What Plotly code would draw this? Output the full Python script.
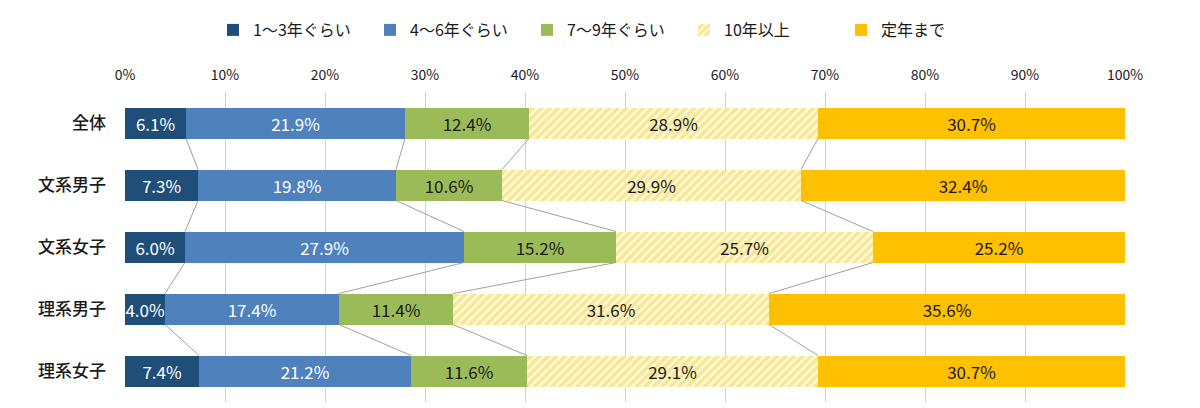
import plotly.graph_objects as go

# 回答者グループ
groups = ['全体', '文系男子', '文系女子', '理系男子', '理系女子']

# 系列名
series_names = ['1～3年ぐらい', '4～6年ぐらい', '7～9年ぐらい', '10年以上', '定年まで']

# 各系列の割合 (%)
v_1_3 = [6.1, 7.3, 6.0, 4.0, 7.4]
v_4_6 = [21.9, 19.8, 27.9, 17.4, 21.2]
v_7_9 = [12.4, 10.6, 15.2, 11.4, 11.6]
v_10plus = [28.9, 29.9, 25.7, 31.6, 29.1]
v_teinen = [30.7, 32.4, 25.2, 35.6, 30.7]

x_ticks = [0, 10, 20, 30, 40, 50, 60, 70, 80, 90, 100]

values = [v_1_3, v_4_6, v_7_9, v_10plus, v_teinen]
colors = ['#1F4E79', '#4F81BD', '#9BBB59', '#EFD245', '#FFC000']
text_colors = ['white', 'white', '#1a1a1a', '#1a1a1a', '#1a1a1a']

ypos = list(range(len(groups)))
bar_w = 0.5

fig = go.Figure()

# 系列線 (Excel の区分線)
cum = [[0.0] * len(groups)]
for vals in values:
    cum.append([c + v for c, v in zip(cum[-1], vals)])
for k in range(1, len(values)):
    xs, ys = [], []
    for i in range(len(groups) - 1):
        xs += [cum[k][i], cum[k][i + 1], None]
        ys += [ypos[i] + bar_w / 2, ypos[i + 1] - bar_w / 2, None]
    fig.add_trace(go.Scatter(x=xs, y=ys, mode='lines', showlegend=False,
                             line=dict(color='#A0A0A0', width=1), hoverinfo='skip'))

for name, vals, col, tcol in zip(series_names, values, colors, text_colors):
    marker = dict(color=col, line=dict(width=0))
    if name == '10年以上':
        marker = dict(color='#FFFADF', line=dict(width=0),
                      pattern=dict(shape='/', fgcolor=col, bgcolor='#FFFADF',
                                   size=6, solidity=0.6))
    fig.add_trace(go.Bar(
        y=ypos, x=vals, name=name, orientation='h', width=bar_w,
        marker=marker,
        text=[f'{v:.1f}%' for v in vals], textposition='inside',
        insidetextanchor='middle', constraintext='none',
        textfont=dict(color=tcol, size=17),
    ))

fig.update_layout(
    barmode='stack',
    width=1200, height=408,
    margin=dict(l=117, r=83, t=84, b=14, autoexpand=False),
    plot_bgcolor='white', paper_bgcolor='white',
    font=dict(family='Noto Sans CJK JP', color='#1a1a1a', size=13),
    legend=dict(orientation='h', x=0.088, xanchor='left', y=1.2, yanchor='middle',
                font=dict(size=16), itemwidth=30, entrywidth=112, traceorder='normal'),
    xaxis=dict(side='top', range=[0, 100], tickvals=x_ticks,
               ticktext=[f'{t}%' for t in x_ticks],
               showgrid=True, gridcolor='#D0D0D0', gridwidth=1,
               zeroline=False, showline=False, ticks='', ticklabelstandoff=8,
               tickfont=dict(size=14)),
    yaxis=dict(range=[4.5, -0.5], tickvals=ypos, ticktext=groups,
               showgrid=False, zeroline=False, ticks='', ticklabelstandoff=18,
               tickfont=dict(size=17, color='#1a1a1a', weight=500)),
)

fig.write_html("out.html")
